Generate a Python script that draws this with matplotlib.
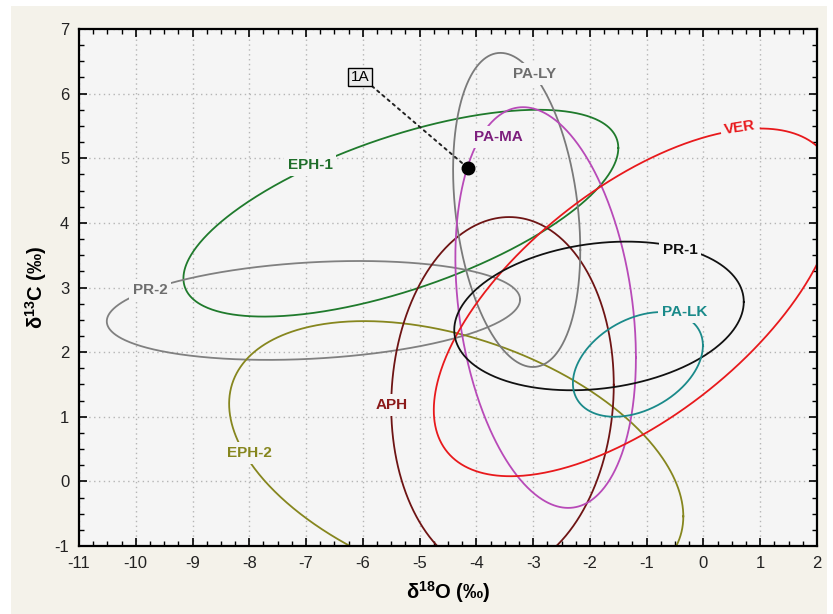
import numpy as np
import matplotlib.pyplot as plt
from matplotlib.patches import Rectangle
from matplotlib.ticker import MultipleLocator

plt.rcParams['font.family'] = ['Liberation Sans', 'DejaVu Sans']
plt.rcParams['mathtext.fontset'] = 'custom'
plt.rcParams['mathtext.rm'] = 'Liberation Sans'
plt.rcParams['mathtext.bf'] = 'Liberation Sans:bold'
plt.rcParams['axes.unicode_minus'] = False

# Elips verileri (merkez, yarı genişlik, yarı yükseklik, korelasyon)
groups = ['EPH-1', 'PR-2', 'EPH-2', 'APH', 'PA-LY', 'PA-MA', 'VER', 'PR-1', 'PA-LK']
center_x = [-5.33, -6.87, -4.355, -3.54, -3.29, -2.78, -1.2, -1.84, -1.155]
center_y = [4.15, 2.645, 0.33, 1.33, 4.2, 2.69, 2.77, 2.56, 1.81]
half_x = [3.83, 3.64, 4.0, 1.96, 1.12, 1.59, 3.55, 2.55, 1.145]
half_y = [1.6, 0.765, 2.15, 2.76, 2.43, 3.1, 2.69, 1.15, 0.81]
corr = [0.63, 0.22, -0.405, 0.06, -0.255, -0.25, 0.62, 0.19, 0.36]

# Etiket konumları
label_x = [-6.93, -9.75, -7.99, -5.49, -2.97, -3.62, 0.64, -0.41, -0.33]
label_y = [4.89, 2.96, 0.44, 1.18, 6.30, 5.33, 5.48, 3.58, 2.62]
label_rot = [0, 0, 0, 0, 0, 0, 9, 0, 0]

# Örnek 1A
sample_name = '1A'
sample_x = -4.15
sample_y = 4.85

line_colors = ['#1f7a2c', '#808080', '#86861e', '#6e1414', '#7a7a7a',
               '#b84ab8', '#e8191c', '#111111', '#1a8a8a']
text_colors = ['#1f6e2a', '#6e6e6e', '#86861e', '#8b1a1a', '#6e6e6e',
               '#7d1f7d', '#e8191c', '#111111', '#1a8a8a']

axes_bg = '#f5f5f5'

fig = plt.figure(figsize=(8.33, 6.14), dpi=100)
fig.patch.set_facecolor('white')
fig.patches.append(Rectangle((11 / 833, 0), 816 / 833, 608 / 614,
                             transform=fig.transFigure, facecolor='#f4f2ea',
                             edgecolor='none', zorder=-10))
ax = fig.add_axes([0.0948, 0.1107, 0.886, 0.8421])
ax.set_facecolor(axes_bg)

t = np.linspace(0, 2 * np.pi, 600)
for i in range(len(groups)):
    phi = np.arccos(corr[i])
    ex = center_x[i] + half_x[i] * np.cos(t)
    ey = center_y[i] + half_y[i] * np.cos(t + phi)
    ax.plot(ex, ey, color=line_colors[i], linewidth=1.3, zorder=2)
    ax.text(label_x[i], label_y[i], groups[i], color=text_colors[i],
            fontsize=11, fontweight='bold', ha='center', va='center',
            rotation=label_rot[i], zorder=4,
            bbox=dict(boxstyle='square,pad=0.25', facecolor=axes_bg, edgecolor='none'))

ax.plot(sample_x, sample_y, 'o', color='black', markersize=9, zorder=6)
ax.annotate(sample_name, xy=(sample_x, sample_y), xytext=(-6.05, 6.26),
            fontsize=11, ha='center', va='center', zorder=5,
            bbox=dict(boxstyle='square,pad=0.15', facecolor='#ececec',
                      edgecolor='black', linewidth=1),
            arrowprops=dict(arrowstyle='-', color='#222222', linestyle=(0, (1.3, 2.2)),
                            linewidth=1.4, relpos=(1, 0), shrinkA=0, shrinkB=0))

ax.set_xlim(-11, 2)
ax.set_ylim(-1, 7)
ax.xaxis.set_major_locator(MultipleLocator(1))
ax.yaxis.set_major_locator(MultipleLocator(1))
ax.xaxis.set_minor_locator(MultipleLocator(0.25))
ax.yaxis.set_minor_locator(MultipleLocator(0.25))
ax.tick_params(which='both', direction='in', top=True, right=True, color='black')
ax.tick_params(which='major', length=6, width=1.2, labelsize=12, pad=7, labelcolor='#222222')
ax.tick_params(which='minor', length=3.5, width=1.0)
for s in ax.spines.values():
    s.set_linewidth(1.6)
    s.set_color('black')
ax.grid(True, which='major', linestyle=(0, (1, 2.5)), color='#b5b5b5', linewidth=1)
ax.set_axisbelow(True)

ax.set_xlabel(r'$\mathbf{δ^{18}O}$ $\mathbf{(‰)}$', fontsize=14.5, labelpad=6)
ax.set_ylabel(r'$\mathbf{δ^{13}C}$ $\mathbf{(‰)}$', fontsize=14.5, labelpad=4)

plt.savefig('out.png', dpi=100, facecolor=fig.get_facecolor())
